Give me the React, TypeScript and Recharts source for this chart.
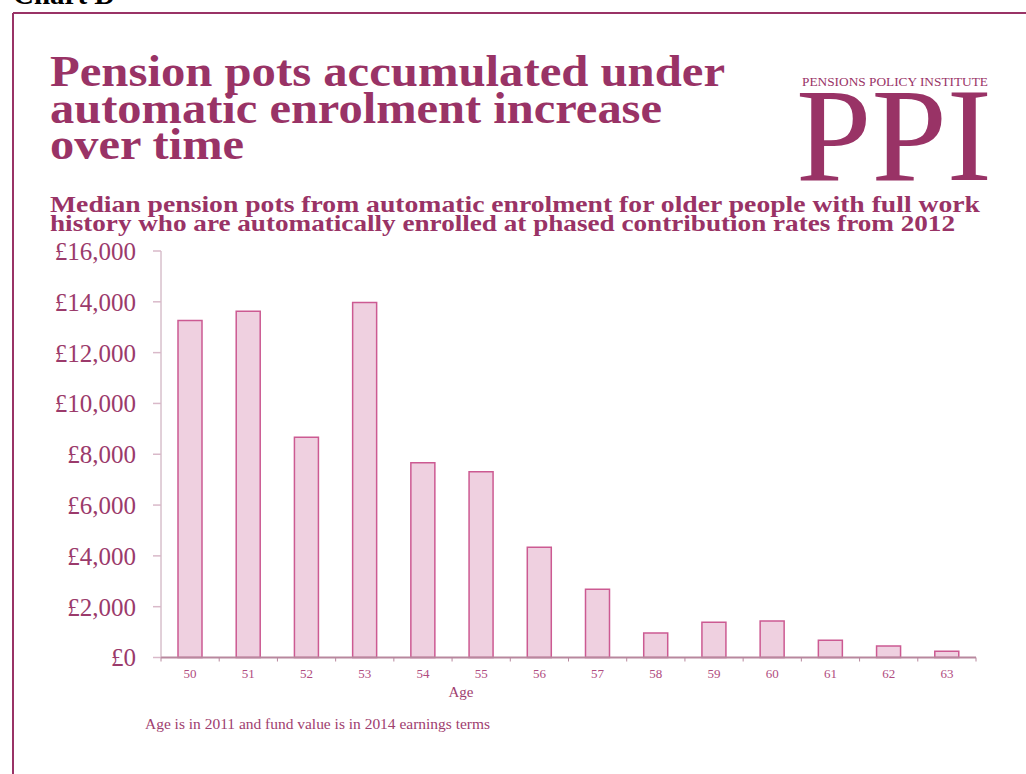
import React from 'react';
import { BarChart, Bar, XAxis, YAxis } from 'recharts';

const ages = ['50', '51', '52', '53', '54', '55', '56', '57', '58', '59', '60', '61', '62', '63'];
const medianPots = [13260, 13630, 8670, 13970, 7670, 7315, 4340, 2685, 960, 1390, 1440, 680, 455, 245];
const yTicks = [0, 2000, 4000, 6000, 8000, 10000, 12000, 14000, 16000];

const titleLines = ['Pension pots accumulated under', 'automatic enrolment increase', 'over time'];
const subtitleLines = [
  'Median pension pots from automatic enrolment for older people with full work',
  'history who are automatically enrolled at phased contribution rates from 2012',
];
const footnote = 'Age is in 2011 and fund value is in 2014 earnings terms';
const xAxisLabel = 'Age';

const data = ages.map((age, i) => ({ age, pot: medianPots[i] }));

const W = 1026;
const H = 774;
const M = { top: 251, right: 50, bottom: 86.5, left: 61 };
const Y_AXIS_W = 100;
const X_AXIS_H = 30;
const PLOT_W = W - M.left - Y_AXIS_W - M.right;
const HALF_BAND = PLOT_W / ages.length / 2;

const PLUM = '#993366';
const SERIF = '"Liberation Serif", "DejaVu Serif", serif';

const fmtPound = (v: number) => '£' + v.toLocaleString('en-GB');

const XTick = (props: any) => {
  const { x, y, payload, index } = props;
  const last = index === ages.length - 1;
  return (
    <g>
      <line x1={x - HALF_BAND} x2={x - HALF_BAND} y1={y} y2={y + 4} stroke="#b8889e" strokeWidth={1} />
      {last && <line x1={x + HALF_BAND} x2={x + HALF_BAND} y1={y} y2={y + 4} stroke="#b8889e" strokeWidth={1} />}
      <text x={x} y={y + 20} textAnchor="middle" fill="#b04c80" fontSize={13} fontFamily={SERIF}>
        {payload.value}
      </text>
    </g>
  );
};

export default function App() {
  return (
    <div style={{ position: 'absolute', left: 0, top: 0, width: W, height: H, background: '#fff', overflow: 'hidden' }}>
      <div style={{ position: 'absolute', left: 0, top: 0 }}>
        <BarChart width={W} height={H} data={data} margin={M}>
          <XAxis
            dataKey="age"
            height={X_AXIS_H}
            axisLine={{ stroke: '#b8889e', strokeWidth: 2 }}
            tickLine={false}
            tickSize={0}
            tickMargin={0}
            tick={<XTick />}
            interval={0}
          />
          <YAxis
            width={Y_AXIS_W}
            domain={[0, 16000]}
            ticks={yTicks}
            interval={0}
            tickFormatter={fmtPound}
            axisLine={{ stroke: '#c4a0b2', strokeWidth: 1 }}
            tickLine={{ stroke: '#d9b9c9', strokeWidth: 1.5 }}
            tickSize={8}
            tickMargin={17}
            tick={{ fill: '#9b3a6b', fontSize: 25, fontFamily: SERIF }}
          />
          <Bar dataKey="pot" fill="#efd0e0" stroke="#cc5a92" strokeWidth={1.5} barSize={24} isAnimationActive={false} />
        </BarChart>
      </div>
      <svg width={W} height={H} style={{ position: 'absolute', left: 0, top: 0, pointerEvents: 'none' }}>
        <text x={13} y={4} fontSize={29} fontWeight="bold" fontFamily={SERIF} fill="#000">Chart D</text>
        <line x1={13} y1={13} x2={W + 5} y2={13} stroke={PLUM} strokeWidth={2} />
        <line x1={13} y1={13} x2={13} y2={H + 5} stroke={PLUM} strokeWidth={2} />
        {titleLines.map((t, i) => (
          <text
            key={t}
            x={50}
            y={86 + i * 36.7}
            fontSize={44}
            fontWeight="bold"
            fontFamily={SERIF}
            fill={PLUM}
            textLength={[675, 612, 194][i]}
            lengthAdjust="spacingAndGlyphs"
          >
            {t}
          </text>
        ))}
        {subtitleLines.map((t, i) => (
          <text
            key={t}
            x={50}
            y={211.5 + i * 19.2}
            fontSize={23}
            fontWeight="bold"
            fontFamily={SERIF}
            fill={PLUM}
            textLength={[930, 905][i]}
            lengthAdjust="spacingAndGlyphs"
          >
            {t}
          </text>
        ))}
        <text x={802} y={85.5} fontSize={13} fontFamily={SERIF} fill={PLUM} textLength={186} lengthAdjust="spacingAndGlyphs">
          PENSIONS POLICY INSTITUTE
        </text>
        <text x={796} y={180} fontSize={134} fontFamily={SERIF} fill={PLUM} textLength={196} lengthAdjust="spacingAndGlyphs">
          PPI
        </text>
        <text x={461} y={697} textAnchor="middle" fontSize={15} fontFamily={SERIF} fill="#a0406f">
          {xAxisLabel}
        </text>
        <text x={145} y={729} fontSize={14} fontFamily={SERIF} fill="#a0406f" textLength={345} lengthAdjust="spacingAndGlyphs">
          {footnote}
        </text>
      </svg>
    </div>
  );
}
